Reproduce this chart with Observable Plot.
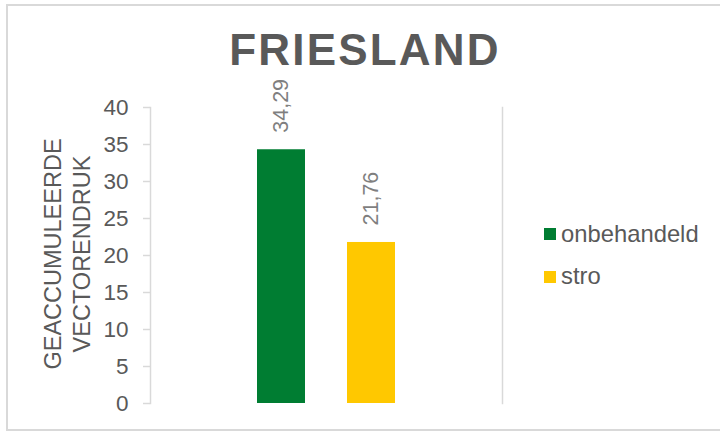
<!DOCTYPE html>
<html>
<head>
<meta charset="utf-8">
<script src="https://cdn.jsdelivr.net/npm/d3@7"></script>
<script src="https://cdn.jsdelivr.net/npm/@observablehq/plot@0.6"></script>
<style>
  html, body { margin: 0; padding: 0; background: #fff; overflow: hidden; }
  body { font-family: "Liberation Sans", Arial, sans-serif; }
  #wrap { position: relative; width: 720px; height: 432px; }
  #border { position: absolute; left: 6px; top: 4px; width: 740px; height: 427px; box-sizing: border-box; border: 2px solid #d9d9d9; }
  #title { position: relative; height: 80px; }
  #title span { position: absolute; left: 0; width: 730px; top: 28px; text-align: center; font-size: 44px; line-height: 44px; font-weight: bold; letter-spacing: 2.2px; color: #595959; }
  #chart { position: relative; }
  #ylabel { position: absolute; left: 67.5px; top: 254px; width: 300px; margin-left: -150px; height: 58px; margin-top: -29px; transform: rotate(-90deg); text-align: center; font-size: 23.5px; line-height: 29px; color: #595959; white-space: pre; }
  .leg { position: absolute; left: 544px; font-size: 23.8px; line-height: 24px; color: #595959; white-space: nowrap; }
  .leg i { position: absolute; left: 0; width: 12px; height: 12px; }
  .leg span { position: absolute; left: 17px; top: 0; }
</style>
</head>
<body>
<div id="wrap">
  <div id="border"></div>
  <div id="title"><span>FRIESLAND</span></div>
  <div id="chart"></div>
  <div id="ylabel"></div>
  <div id="legend"></div>
</div>
<script>
const categories = ["onbehandeld", "stro"];
const values = [34.29, 21.76];
const colors = ["#007D32", "#FFC800"];
const yTicks = [0, 5, 10, 15, 20, 25, 30, 35, 40];
const yLabel = "GEACCUMULEERDE\nVECTORENDRUK";

const data = categories.map((c, i) => ({category: c, value: values[i]}));
const fmt = v => v.toFixed(2).replace(".", ",");

const plot = Plot.plot({
  width: 720,
  height: 352,
  marginTop: 27,
  marginBottom: 29,
  marginLeft: 150,
  marginRight: 218,
  style: {fontFamily: "'Liberation Sans', Arial, sans-serif", fontSize: "22px", color: "#595959", background: "transparent"},
  x: {domain: categories, paddingInner: 0.47, paddingOuter: 1.17, axis: null},
  y: {domain: [0, 40]},
  color: {domain: categories, range: colors},
  marks: [
    Plot.frame({anchor: "left", stroke: "#d9d9d9", strokeWidth: 1.5}),
    Plot.frame({anchor: "right", stroke: "#d9d9d9", strokeWidth: 1.5}),
    Plot.axisY({
      ticks: yTicks, tickSize: 7, tickPadding: 15,
      stroke: "#d9d9d9", fill: "#595959", strokeWidth: 1.5,
      label: null, fontSize: 22.5
    }),
    Plot.barY(data, {x: "category", y: "value", fill: "category"}),
    Plot.text(data, {x: "category", y: "value", text: d => fmt(d.value), rotate: -90, textAnchor: "start", lineAnchor: "middle", dy: -17, fill: "#7f7f7f", fontSize: 21.5})
  ]
});
document.getElementById("chart").appendChild(plot);

document.getElementById("ylabel").textContent = yLabel;

const legend = document.getElementById("legend");
const legTops = [222, 264];
categories.forEach((c, i) => {
  const d = document.createElement("div");
  d.className = "leg";
  d.style.top = legTops[i] + "px";
  const sw = document.createElement("i");
  sw.style.background = colors[i];
  sw.style.top = (6 + i) + "px";
  const t = document.createElement("span");
  t.textContent = c;
  d.appendChild(sw); d.appendChild(t);
  legend.appendChild(d);
});
</script>
</body>
</html>
